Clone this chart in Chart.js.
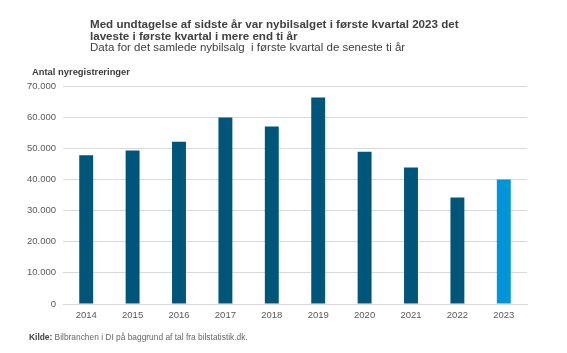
<!DOCTYPE html>
<html>
<head>
<meta charset="utf-8">
<script src="https://cdn.jsdelivr.net/npm/chart.js@4/dist/chart.umd.min.js"></script>
<style>
  html, body { margin: 0; padding: 0; background: #ffffff; }
  #wrap { position: relative; width: 567px; height: 353px; }
</style>
</head>
<body>
<div id="wrap"><canvas id="c" width="567" height="353"></canvas></div>
<script>
// ---- Data ----
const years = ['2014','2015','2016','2017','2018','2019','2020','2021','2022','2023'];
const registrations = [47800, 49300, 52100, 59900, 57000, 66300, 48900, 43800, 34200, 40000];
const yTicks = [0, 10000, 20000, 30000, 40000, 50000, 60000, 70000];

const titleLines = [
  'Med undtagelse af sidste år var nybilsalget i første kvartal 2023 det',
  'laveste i første kvartal i mere end ti år'
];
const subtitleText = 'Data for det samlede nybilsalg  i første kvartal de seneste ti år';
const axisTitleText = 'Antal nyregistreringer';
const sourceLabel = 'Kilde:';
const sourceText = ' Bilbranchen i DI på baggrund af tal fra bilstatistik.dk.';

const FONT = '"Liberation Sans", Arial, sans-serif';
const DARK = '#00567a';
const LIGHT = '#0095d8';

const textPlugin = {
  id: 'texts',
  afterDraw(chart) {
    const ctx = chart.ctx;
    ctx.save();
    ctx.textBaseline = 'alphabetic';
    ctx.textAlign = 'left';
    // title
    ctx.fillStyle = '#404040';
    ctx.font = 'bold 11.6px ' + FONT;
    ctx.fillText(titleLines[0], 90, 28);
    ctx.fillText(titleLines[1], 90, 40);
    ctx.fillStyle = '#404040';
    ctx.font = '11.5px ' + FONT;
    ctx.fillText(subtitleText, 90, 51);
    // axis title
    ctx.fillStyle = '#3a3a3a';
    ctx.font = 'bold 9.4px ' + FONT;
    ctx.fillText(axisTitleText, 32, 75);
    // source
    ctx.fillStyle = '#404040';
    ctx.font = 'bold 8.4px ' + FONT;
    ctx.fillText(sourceLabel, 29, 340);
    const w = ctx.measureText(sourceLabel).width;
    ctx.fillStyle = '#666666';
    ctx.font = '8.4px ' + FONT;
    ctx.fillText(sourceText, 29 + w, 340);
    ctx.restore();
  }
};

new Chart(document.getElementById('c'), {
  type: 'bar',
  data: {
    labels: years,
    datasets: [{
      data: registrations,
      backgroundColor: (ctx) => ctx.dataIndex === years.length - 1 ? LIGHT : DARK,
      categoryPercentage: 1.0,
      barPercentage: 0.30,
      borderWidth: 0
    }]
  },
  options: {
    responsive: false,
    animation: false,
    devicePixelRatio: 1,
    layout: { padding: { top: 86, right: 40, bottom: 0, left: 0 } },
    plugins: {
      legend: { display: false },
      tooltip: { enabled: false },
      title: { display: false }
    },
    scales: {
      x: {
        grid: { display: false, drawTicks: false },
        border: { display: true, color: '#d9d9d9', width: 1 },
        ticks: { color: '#595959', font: { family: FONT, size: 9.5 }, padding: 6, maxRotation: 0 },
        afterFit(scale) { scale.height = 49; }
      },
      y: {
        min: 0,
        max: 70000,
        afterBuildTicks(scale) { scale.ticks = yTicks.map(v => ({ value: v })); },
        grid: { color: '#d9d9d9', drawTicks: false, lineWidth: 1 },
        border: { display: false },
        ticks: {
          color: '#595959',
          font: { family: FONT, size: 9.5 },
          padding: 7,
          callback: (v) => v.toLocaleString('da-DK')
        },
        afterFit(scale) { scale.width = 63; }
      }
    }
  },
  plugins: [textPlugin]
});
</script>
</body>
</html>
